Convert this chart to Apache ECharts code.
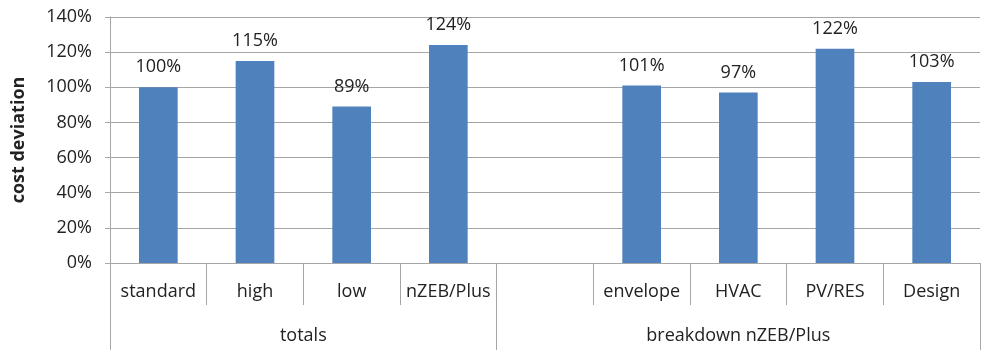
<!DOCTYPE html>
<html>
<head>
<meta charset="utf-8">
<script src="https://cdn.jsdelivr.net/npm/echarts@6/dist/echarts.min.js"></script>
<style>
  html, body { margin: 0; padding: 0; background: #fff; }
  #chart { width: 987px; height: 350px; }
</style>
</head>
<body>
<div id="chart"></div>
<script>
// Cost deviation per variant, with a blank slot separating the two groups
const categories = ['standard', 'high', 'low', 'nZEB/Plus', '', 'envelope', 'HVAC', 'PV/RES', 'Design'];
const costDeviation = [100, 115, 89, 124, null, 101, 97, 122, 103];
const yTicks = { min: 0, max: 140, step: 20 };

// Group row: half-category slots so group labels land in the middle of their span
const groupSlots = ['', '', '', '', 'totals', '', '', '', '', '', '', '', '', 'breakdown nZEB/Plus', '', '', '', '', ''];
const groupEdges = [0, 8, 18];

const FONT = 'Open Sans';
const FONT_SIZE = 18;
const GRID_COLOR = '#a6a6a6';
const TEXT_COLOR = '#222';

const chart = echarts.init(document.getElementById('chart'));
chart.setOption({
  animation: false,
  textStyle: { fontFamily: FONT },
  grid: { left: 110, right: 7, top: 17, bottom: 87 },
  xAxis: [
    {
      type: 'category',
      data: categories,
      position: 'bottom',
      axisLine: { show: true, lineStyle: { color: GRID_COLOR, width: 1 } },
      axisTick: { show: true, interval: 0, length: 42, lineStyle: { color: GRID_COLOR, width: 1 } },
      axisLabel: { interval: 0, margin: 20, fontSize: FONT_SIZE, color: TEXT_COLOR, fontFamily: FONT }
    },
    {
      type: 'category',
      data: groupSlots,
      position: 'bottom',
      boundaryGap: false,
      axisLine: { show: false },
      axisTick: {
        show: true,
        length: 87,
        interval: (i) => groupEdges.includes(i),
        lineStyle: { color: GRID_COLOR, width: 1 }
      },
      axisLabel: { interval: 0, margin: 64, fontSize: FONT_SIZE, color: TEXT_COLOR, fontFamily: FONT }
    }
  ],
  yAxis: {
    type: 'value',
    min: yTicks.min,
    max: yTicks.max,
    interval: yTicks.step,
    name: 'cost deviation',
    nameLocation: 'middle',
    nameGap: 82,
    nameRotate: 90,
    nameTextStyle: { fontSize: FONT_SIZE, fontWeight: 'bold', color: TEXT_COLOR, fontFamily: FONT },
    axisLine: { show: true, lineStyle: { color: GRID_COLOR, width: 1 } },
    axisTick: { show: true, length: 5, lineStyle: { color: GRID_COLOR } },
    axisLabel: { formatter: '{value}%', margin: 18, fontSize: FONT_SIZE, color: TEXT_COLOR, fontFamily: FONT },
    splitLine: { show: true, lineStyle: { color: GRID_COLOR, width: 1 } }
  },
  series: [
    {
      type: 'bar',
      xAxisIndex: 0,
      data: costDeviation,
      barWidth: '40%',
      itemStyle: { color: '#4f81bd' },
      label: {
        show: true,
        position: 'top',
        distance: 11,
        formatter: (p) => p.value + '%',
        fontSize: FONT_SIZE,
        color: TEXT_COLOR,
        fontFamily: FONT
      }
    }
  ]
});
</script>
</body>
</html>
